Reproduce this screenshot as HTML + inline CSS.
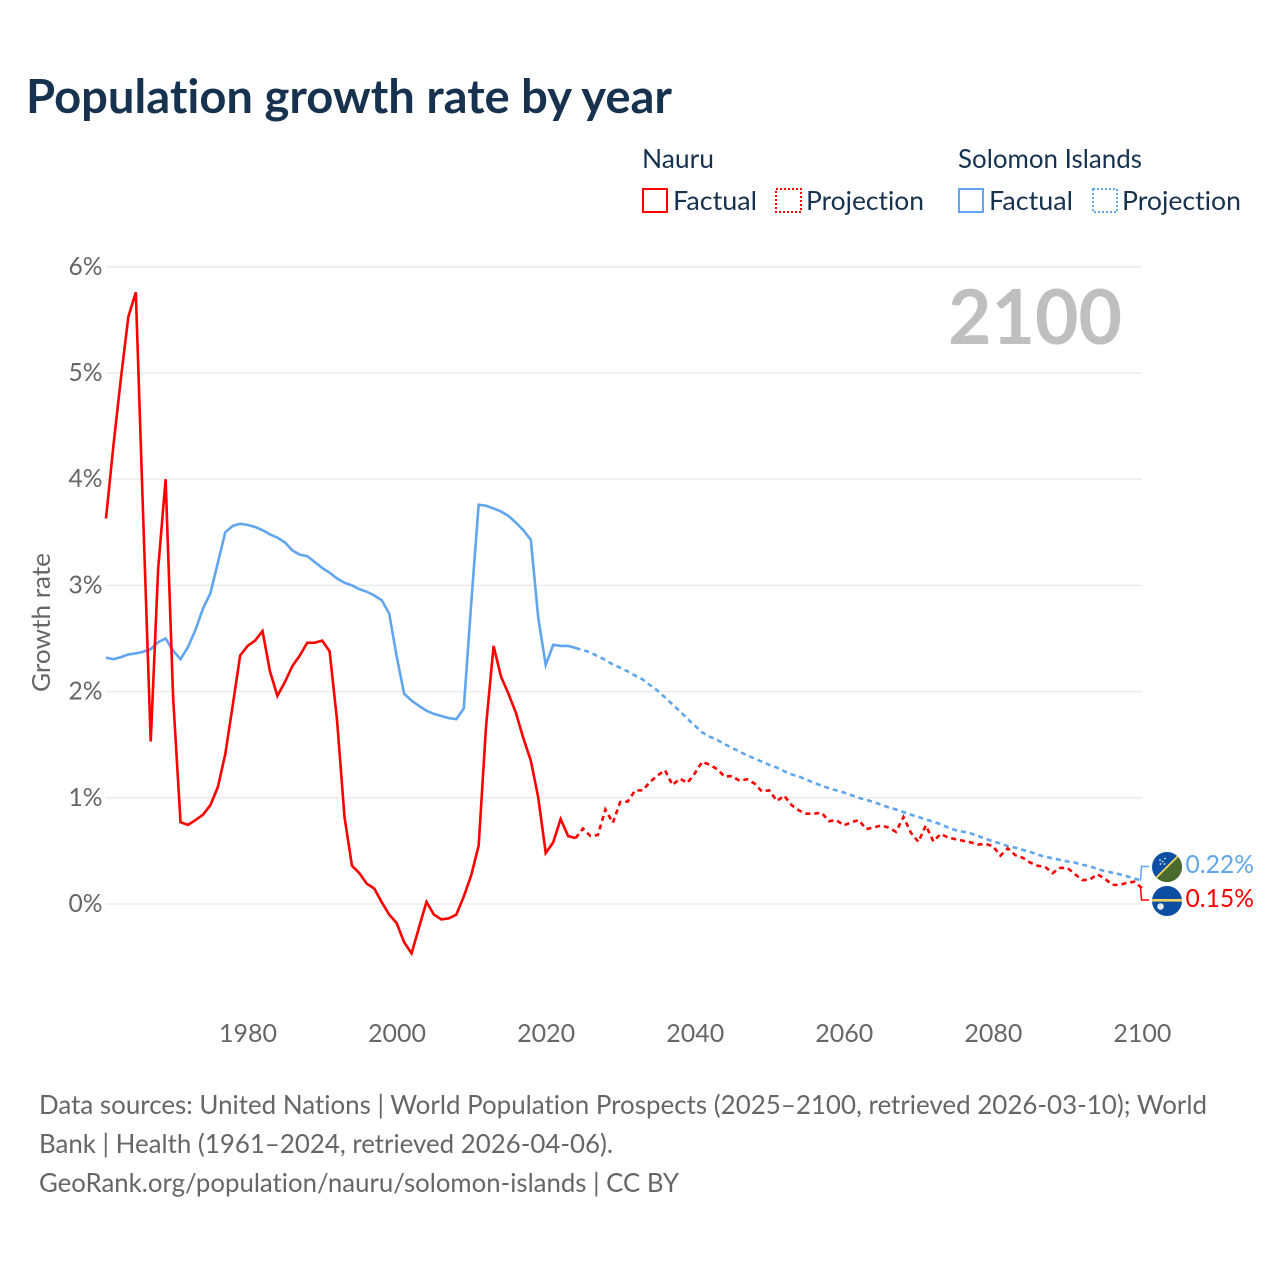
<!DOCTYPE html>
<html lang="en">
<head>
<meta charset="utf-8">
<title>Population growth rate by year</title>
<style>
html,body{margin:0;padding:0;background:#fff;width:1280px;height:1280px;overflow:hidden}
svg{display:block}
text{font-family:"Lato","Carlito","Liberation Sans",sans-serif;font-variant-ligatures:none;font-feature-settings:"liga" 0}
</style>
</head>
<body>
<svg id="chart" xmlns="http://www.w3.org/2000/svg" width="1280" height="1280" viewBox="0 0 1280 1280">
  <defs>
    <clipPath id="si-clip"><circle cx="1167" cy="867" r="15"/></clipPath>
    <clipPath id="nr-clip"><circle cx="1167" cy="901" r="15"/></clipPath>
  </defs>
  <rect x="0" y="0" width="1280" height="1280" fill="#fff"/>
  <text x="26" y="113" font-size="47" font-weight="700" fill="#17324f" textLength="646" lengthAdjust="spacingAndGlyphs">Population growth rate by year</text>

  <g font-size="26" fill="#17324f">
    <text x="642" y="168" textLength="72" lengthAdjust="spacingAndGlyphs">Nauru</text>
    <rect x="643" y="189" width="24" height="23" fill="none" stroke="#ff0000" stroke-width="2"/>
    <text x="673" y="210" textLength="84" lengthAdjust="spacingAndGlyphs">Factual</text>
    <rect x="776" y="189" width="25" height="23" fill="none" stroke="#ff0000" stroke-width="2" stroke-dasharray="2 2"/>
    <text x="806" y="210" textLength="118" lengthAdjust="spacingAndGlyphs">Projection</text>
    <text x="958" y="168" textLength="184" lengthAdjust="spacingAndGlyphs">Solomon Islands</text>
    <rect x="959" y="189" width="24" height="23" fill="none" stroke="#60a5ee" stroke-width="2"/>
    <text x="989" y="210" textLength="84" lengthAdjust="spacingAndGlyphs">Factual</text>
    <rect x="1093" y="189" width="24" height="23" fill="none" stroke="#60a5ee" stroke-width="2" stroke-dasharray="2 2"/>
    <text x="1122" y="210" textLength="119" lengthAdjust="spacingAndGlyphs">Projection</text>
  </g>

  <g id="grid"></g>
  <g id="y-ticks"></g>
  <g id="x-ticks"></g>
  <text transform="translate(50,622.5) rotate(-90)" text-anchor="middle" font-size="25" fill="#666" textLength="139" lengthAdjust="spacingAndGlyphs">Growth rate</text>
  <text x="948" y="344" font-size="76" font-weight="700" fill="#bfbfbf" textLength="174" lengthAdjust="spacingAndGlyphs">2100</text>

  <g id="series"></g>
  <g id="end-markers"></g>

  <g font-size="26" fill="#666">
    <text x="39" y="1114" textLength="1168" lengthAdjust="spacingAndGlyphs">Data sources: United Nations | World Population Prospects (2025–2100, retrieved 2026-03-10); World</text>
    <text x="39" y="1153" textLength="574" lengthAdjust="spacingAndGlyphs">Bank | Health (1961–2024, retrieved 2026-04-06).</text>
    <text x="39" y="1192" textLength="640" lengthAdjust="spacingAndGlyphs">GeoRank.org/population/nauru/solomon-islands | CC BY</text>
  </g>
</svg>
<script>
const years = [1961,1962,1963,1964,1965,1966,1967,1968,1969,1970,1971,1972,1973,1974,1975,1976,1977,1978,1979,1980,
1981,1982,1983,1984,1985,1986,1987,1988,1989,1990,1991,1992,1993,1994,1995,1996,1997,1998,1999,2000,
2001,2002,2003,2004,2005,2006,2007,2008,2009,2010,2011,2012,2013,2014,2015,2016,2017,2018,2019,2020,
2021,2022,2023,2024,2025,2026,2027,2028,2029,2030,2031,2032,2033,2034,2035,2036,2037,2038,2039,2040,
2041,2042,2043,2044,2045,2046,2047,2048,2049,2050,2051,2052,2053,2054,2055,2056,2057,2058,2059,2060,
2061,2062,2063,2064,2065,2066,2067,2068,2069,2070,2071,2072,2073,2074,2075,2076,2077,2078,2079,2080,
2081,2082,2083,2084,2085,2086,2087,2088,2089,2090,2091,2092,2093,2094,2095,2096,2097,2098,2099,2100];
const nauruValues = [3.63,4.32,4.95,5.53,5.76,3.62,1.53,3.16,4.00,1.95,0.77,0.745,0.79,0.84,0.93,1.10,1.41,1.87,2.34,2.43,
2.48,2.57,2.19,1.96,2.09,2.24,2.34,2.46,2.46,2.48,2.38,1.73,0.82,0.36,0.29,0.19,0.145,0.016,-0.10,-0.18,
-0.36,-0.465,-0.22,0.02,-0.10,-0.145,-0.135,-0.10,0.07,0.27,0.55,1.68,2.43,2.14,1.98,1.80,1.56,1.35,1.00,0.48,
0.58,0.80,0.64,0.62,0.71,0.64,0.65,0.89,0.765,0.96,0.965,1.07,1.07,1.15,1.21,1.26,1.12,1.18,1.14,1.23,
1.34,1.31,1.27,1.20,1.205,1.16,1.175,1.135,1.06,1.07,0.97,1.02,0.93,0.88,0.85,0.85,0.86,0.78,0.79,0.74,
0.77,0.79,0.705,0.72,0.74,0.72,0.68,0.82,0.67,0.585,0.74,0.59,0.66,0.625,0.61,0.595,0.58,0.56,0.565,0.545,
0.455,0.525,0.46,0.435,0.39,0.36,0.35,0.29,0.34,0.34,0.28,0.225,0.23,0.28,0.24,0.18,0.18,0.20,0.21,0.15];
const solomonValues = [2.32,2.305,2.325,2.35,2.36,2.375,2.40,2.465,2.50,2.385,2.305,2.42,2.58,2.78,2.925,3.21,3.50,3.56,3.58,3.57,
3.55,3.52,3.48,3.45,3.405,3.33,3.29,3.275,3.22,3.165,3.12,3.065,3.025,3.00,2.965,2.94,2.905,2.86,2.735,2.33,
1.98,1.915,1.865,1.82,1.79,1.77,1.75,1.74,1.84,2.83,3.76,3.75,3.725,3.695,3.655,3.59,3.52,3.43,2.69,2.25,
2.44,2.43,2.43,2.41,2.39,2.37,2.33,2.30,2.255,2.225,2.19,2.15,2.115,2.06,2.01,1.945,1.88,1.815,1.745,1.68,
1.615,1.575,1.545,1.505,1.47,1.435,1.40,1.37,1.34,1.31,1.285,1.25,1.22,1.20,1.17,1.14,1.115,1.09,1.07,1.05,
1.025,1.00,0.98,0.96,0.935,0.91,0.89,0.865,0.84,0.82,0.795,0.775,0.75,0.72,0.695,0.68,0.665,0.64,0.615,0.59,
0.57,0.545,0.53,0.51,0.49,0.465,0.445,0.43,0.415,0.40,0.39,0.37,0.355,0.33,0.31,0.295,0.28,0.26,0.24,0.22];
const lastFactualYear = 2024;
const yTickValues = [0,1,2,3,4,5,6];
const xTickYears = [1980,2000,2020,2040,2060,2080,2100];

const SVG_NS = 'http://www.w3.org/2000/svg';
const RED = '#ff0000';
const BLUE = '#60a5ee';
const PLOT_LEFT = 106, PLOT_RIGHT = 1142, ZERO_Y = 904, PX_PER_PCT = 106.2;
const LINE_WIDTH = 2.6;
const xDomainStart = years[0], xDomainEnd = years[years.length - 1];
function xScale(y) { return PLOT_LEFT + (y - xDomainStart) * (PLOT_RIGHT - PLOT_LEFT) / (xDomainEnd - xDomainStart); }
function yScale(v) { return ZERO_Y - v * PX_PER_PCT; }
function make(tag, attrs) {
  const el = document.createElementNS(SVG_NS, tag);
  for (const k in attrs) el.setAttribute(k, attrs[k]);
  return el;
}
function pathFor(values, from, to) {
  let d = '';
  years.forEach(function (yr, i) {
    if (yr < from || yr > to) return;
    d += (d ? 'L' : 'M') + xScale(yr).toFixed(2) + ' ' + yScale(values[i]).toFixed(2);
  });
  return d;
}

const grid = document.getElementById('grid');
const yTicks = document.getElementById('y-ticks');
yTickValues.forEach(function (v) {
  const line = make('line', {x1: PLOT_LEFT, x2: PLOT_RIGHT, y1: yScale(v), y2: yScale(v), stroke: '#ebebeb', 'stroke-width': 1.5});
  
  
  grid.appendChild(line);
  const t = make('text', {x: 102.5, y: yScale(v) + 8, 'text-anchor': 'end', 'font-size': 25, fill: '#666', textLength: 34, lengthAdjust: 'spacingAndGlyphs'});
  
  
  t.textContent = v + '%';
  yTicks.appendChild(t);
});

const xTicks = document.getElementById('x-ticks');
xTickYears.forEach(function (yr) {
  const t = make('text', {x: xScale(yr) + 0.4, y: 1042, 'text-anchor': 'middle', 'font-size': 25, fill: '#666', textLength: 58, lengthAdjust: 'spacingAndGlyphs'});
  
  
  t.textContent = yr;
  xTicks.appendChild(t);
});

const seriesGroup = document.getElementById('series');
function drawSeries(key, values, color) {
  const solid = make('path', {d: pathFor(values, xDomainStart, lastFactualYear), fill: 'none', stroke: color, 'stroke-width': LINE_WIDTH, 'stroke-linejoin': 'miter'});
  
  
  seriesGroup.appendChild(solid);
  const dashed = make('path', {d: pathFor(values, lastFactualYear, xDomainEnd), fill: 'none', stroke: color, 'stroke-width': LINE_WIDTH, 'stroke-dasharray': '5 4', 'stroke-linejoin': 'miter'});
  
  
  seriesGroup.appendChild(dashed);
}
drawSeries('solomon', solomonValues, BLUE);
drawSeries('nauru', nauruValues, RED);

/* End-of-line connectors and value labels */
const markers = document.getElementById('end-markers');
const endX = xScale(xDomainEnd);
const lastIdx = years.length - 1;
const solomonEnd = solomonValues[lastIdx];
const nauruEnd = nauruValues[lastIdx];

const soConn = make('path', {d: 'M' + (endX - 1.5) + ' ' + yScale(solomonEnd) + 'L' + (endX - 0.5) + ' ' + 866.5 + 'L' + 1149 + ' ' + 866.5, fill: 'none', stroke: BLUE, 'stroke-width': 1.5});


markers.appendChild(soConn);

const nrConn = make('path', {d: 'M' + (endX - 1.5) + ' ' + yScale(nauruEnd) + 'L' + (endX - 0.5) + ' ' + 900 + 'L' + 1149 + ' ' + 900, fill: 'none', stroke: RED, 'stroke-width': 1.5});


markers.appendChild(nrConn);

const soFlag = make('g', {'clip-path': 'url(#si-clip)'});


soFlag.appendChild(make('rect', {x: 1152, y: 852, width: 30, height: 30, fill: '#0b4ea2'}));
soFlag.appendChild(make('polygon', {points: '1182,852 1182,882 1152,882', fill: '#4b6b2c'}));
soFlag.appendChild(make('line', {x1: 1153, y1: 881, x2: 1181, y2: 853, stroke: '#f2d75c', 'stroke-width': 1.8}));
[[1160,860],[1165,858.5],[1160.5,864],[1164.5,864],[1162.5,861.5]].forEach(function (p) {
  soFlag.appendChild(make('circle', {cx: p[0], cy: p[1], r: 0.9, fill: '#dfe8f5'}));
});
markers.appendChild(soFlag);

const nrFlag = make('g', {'clip-path': 'url(#nr-clip)'});


nrFlag.appendChild(make('rect', {x: 1152, y: 886, width: 30, height: 30, fill: '#0b4ea2'}));
nrFlag.appendChild(make('rect', {x: 1152, y: 899, width: 30, height: 2.6, fill: '#f6d560'}));
nrFlag.appendChild(make('circle', {cx: 1160.5, cy: 906.5, r: 3.3, fill: '#e4e9f0'}));
markers.appendChild(nrFlag);

const soLabel = make('text', {x: 1185.5, y: 873, 'font-size': 25, fill: BLUE, textLength: 68.5, lengthAdjust: 'spacingAndGlyphs'});


soLabel.textContent = solomonEnd.toFixed(2) + '%';
markers.appendChild(soLabel);

const nrLabel = make('text', {x: 1185.5, y: 907, 'font-size': 25, fill: RED, textLength: 68.5, lengthAdjust: 'spacingAndGlyphs'});


nrLabel.textContent = nauruEnd.toFixed(2) + '%';
markers.appendChild(nrLabel);
</script>
</body>
</html>
